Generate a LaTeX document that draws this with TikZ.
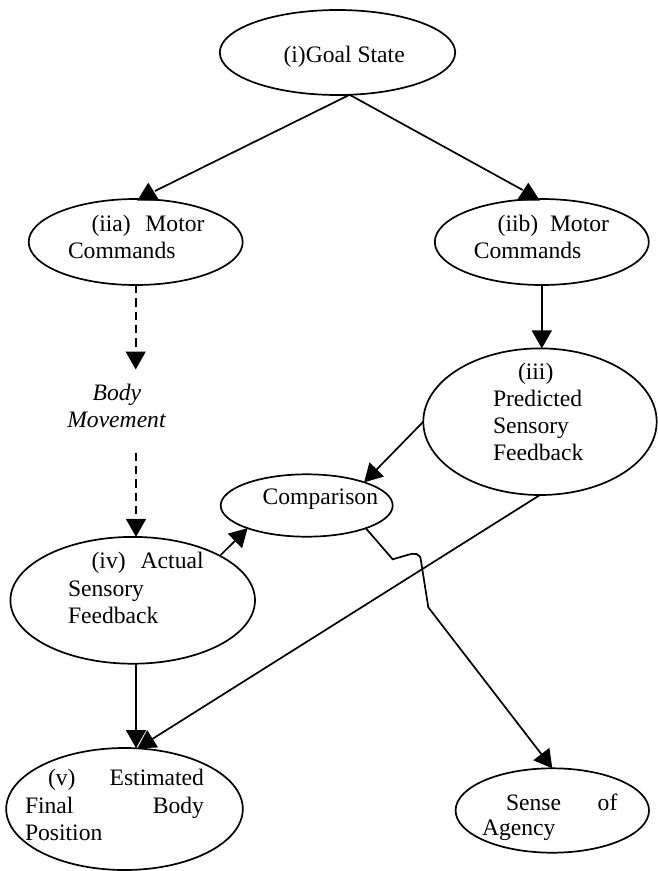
\documentclass[tikz,border=0pt]{standalone}
\usepackage{fontspec}
\setmainfont{Liberation Serif}
\usetikzlibrary{arrows.meta,shapes.geometric}
\newcommand\dfont{\fontsize{23.6pt}{27pt}\selectfont}
\begin{document}
\begin{tikzpicture}[x=1pt,y=-1pt,
  oval/.style={draw, ellipse, line width=1.7pt, inner sep=0pt, outer sep=0pt},
  txt/.style={anchor=base west, inner sep=0pt, outer sep=0pt, font=\dfont},
  plainline/.style={line width=1.7pt},
  conn/.style={line width=1.7pt, -{Triangle[length=18pt,width=20pt]}},
  dconn/.style={conn, dash pattern=on 8.3pt off 5pt}
]
\useasboundingbox (0,0) rectangle (657,871);

% ellipses
\node[oval, minimum width=235.4pt, minimum height=85pt]    (goal)   at (337.5,52.5) {};
\node[oval, minimum width=214pt,   minimum height=86pt]    (iia)    at (135.7,242) {};
\node[oval, minimum width=214pt,   minimum height=86pt]    (iib)    at (541.8,242) {};
\node[oval, minimum width=233.4pt, minimum height=146.6pt] (iii)    at (540,421.7) {};
\node[oval, minimum width=172pt,   minimum height=62.4pt]  (comp)   at (306.7,505.5) {};
\node[oval, minimum width=244.6pt, minimum height=126.8pt] (iv)     at (132.7,600.3) {};
\node[oval, minimum width=236.6pt, minimum height=122pt]   (v)      at (124.5,809) {};
\node[oval, minimum width=193.4pt, minimum height=84.4pt]  (agency) at (552.3,810.5) {};

% texts
\node[txt] (tgoal) at (283.5,62) {(i)Goal State};
\node[txt] (tiia1) at (91.5,231) {\hbox to 113pt{(iia)\hfill Motor}};
\node[txt] (tiia2) at (68,258) {Commands};
\node[txt] (tiib1) at (497.7,231) {\hbox to 111.3pt{(iib)\hfill Motor}};
\node[txt] (tiib2) at (473.8,258) {Commands};
\node[txt] (tiii1) at (518,379) {(iii)};
\node[txt] (tiii2) at (493,406) {Predicted};
\node[txt] (tiii3) at (493,433) {Sensory};
\node[txt] (tiii4) at (493,460) {Feedback};
\node[txt] (bm1) at (92.7,400) {\itshape Body};
\node[txt] (bm2) at (67.3,427) {\itshape Movement};
\node[txt] (tcomp) at (262.7,504) {Comparison};
\node[txt] (tiv1) at (91.6,568) {\hbox to 112pt{(iv)\hfill Actual}};
\node[txt] (tiv2) at (68,596) {Sensory};
\node[txt] (tiv3) at (68,623) {Feedback};
\node[txt] (tv1) at (48,785) {\hbox to 156pt{(v)\hfill Estimated}};
\node[txt] (tv2) at (25,813) {\hbox to 179pt{Final\hfill Body}};
\node[txt] (tv3) at (25,840) {Position};
\node[txt] (tag1) at (506,810) {\hbox to 111.4pt{Sense\hfill of}};
\node[txt] (tag2) at (482,835) {Agency};

% goal -> motor commands (upward triangle heads as in the source)
\coordinate (jl) at (155,191);
\coordinate (jr) at (522.7,190);
\coordinate (tl) at (148.3,200.5);
\coordinate (tr) at (528.3,200.5);
\draw[plainline] (goal.-74) -- (jl);
\draw[plainline] (goal.-74) -- (jr);
\fill (tl) ++(-11,0) -- ++(22,0) -- ++(-11,-17.8) -- cycle;
\fill (tr) ++(-11.5,0) -- ++(23,0) -- ++(-11.5,-17.8) -- cycle;

% iib -> iii
\draw[conn] (iib.south) -- (iib.south |- iii.north);

% dashed body movement
\coordinate (bmtop) at (136,369.5);
\coordinate (bmbot) at (136,452.7);
\draw[dconn] (iia.south) -- (iia.south |- bmtop);
\draw[dconn] (bmbot) -- (bmbot |- iv.north);

% iv -> comparison, iii -> comparison
\draw[conn] (iv.27) -- (comp.201);
\draw[conn] (iii.west) -- (comp.22);

% iii -> v, iv -> v
\draw[conn] (iii.south) -- (v.78);
\coordinate (cx) at (136,0);
\draw[conn] (iv.south -| cx) -- (v.north -| cx);

% comparison -> agency
\coordinate (h1) at (392.7,559.3);
\coordinate (h2) at (408,554.8);
\coordinate (h3) at (421,561);
\coordinate (h4) at (428.3,607.3);
\draw[conn] (comp.-21) -- (h1) -- (h2) .. controls (414,553) and (420.5,552.5) .. (h3) -- (h4) -- (agency.north);
\end{tikzpicture}
\end{document}
